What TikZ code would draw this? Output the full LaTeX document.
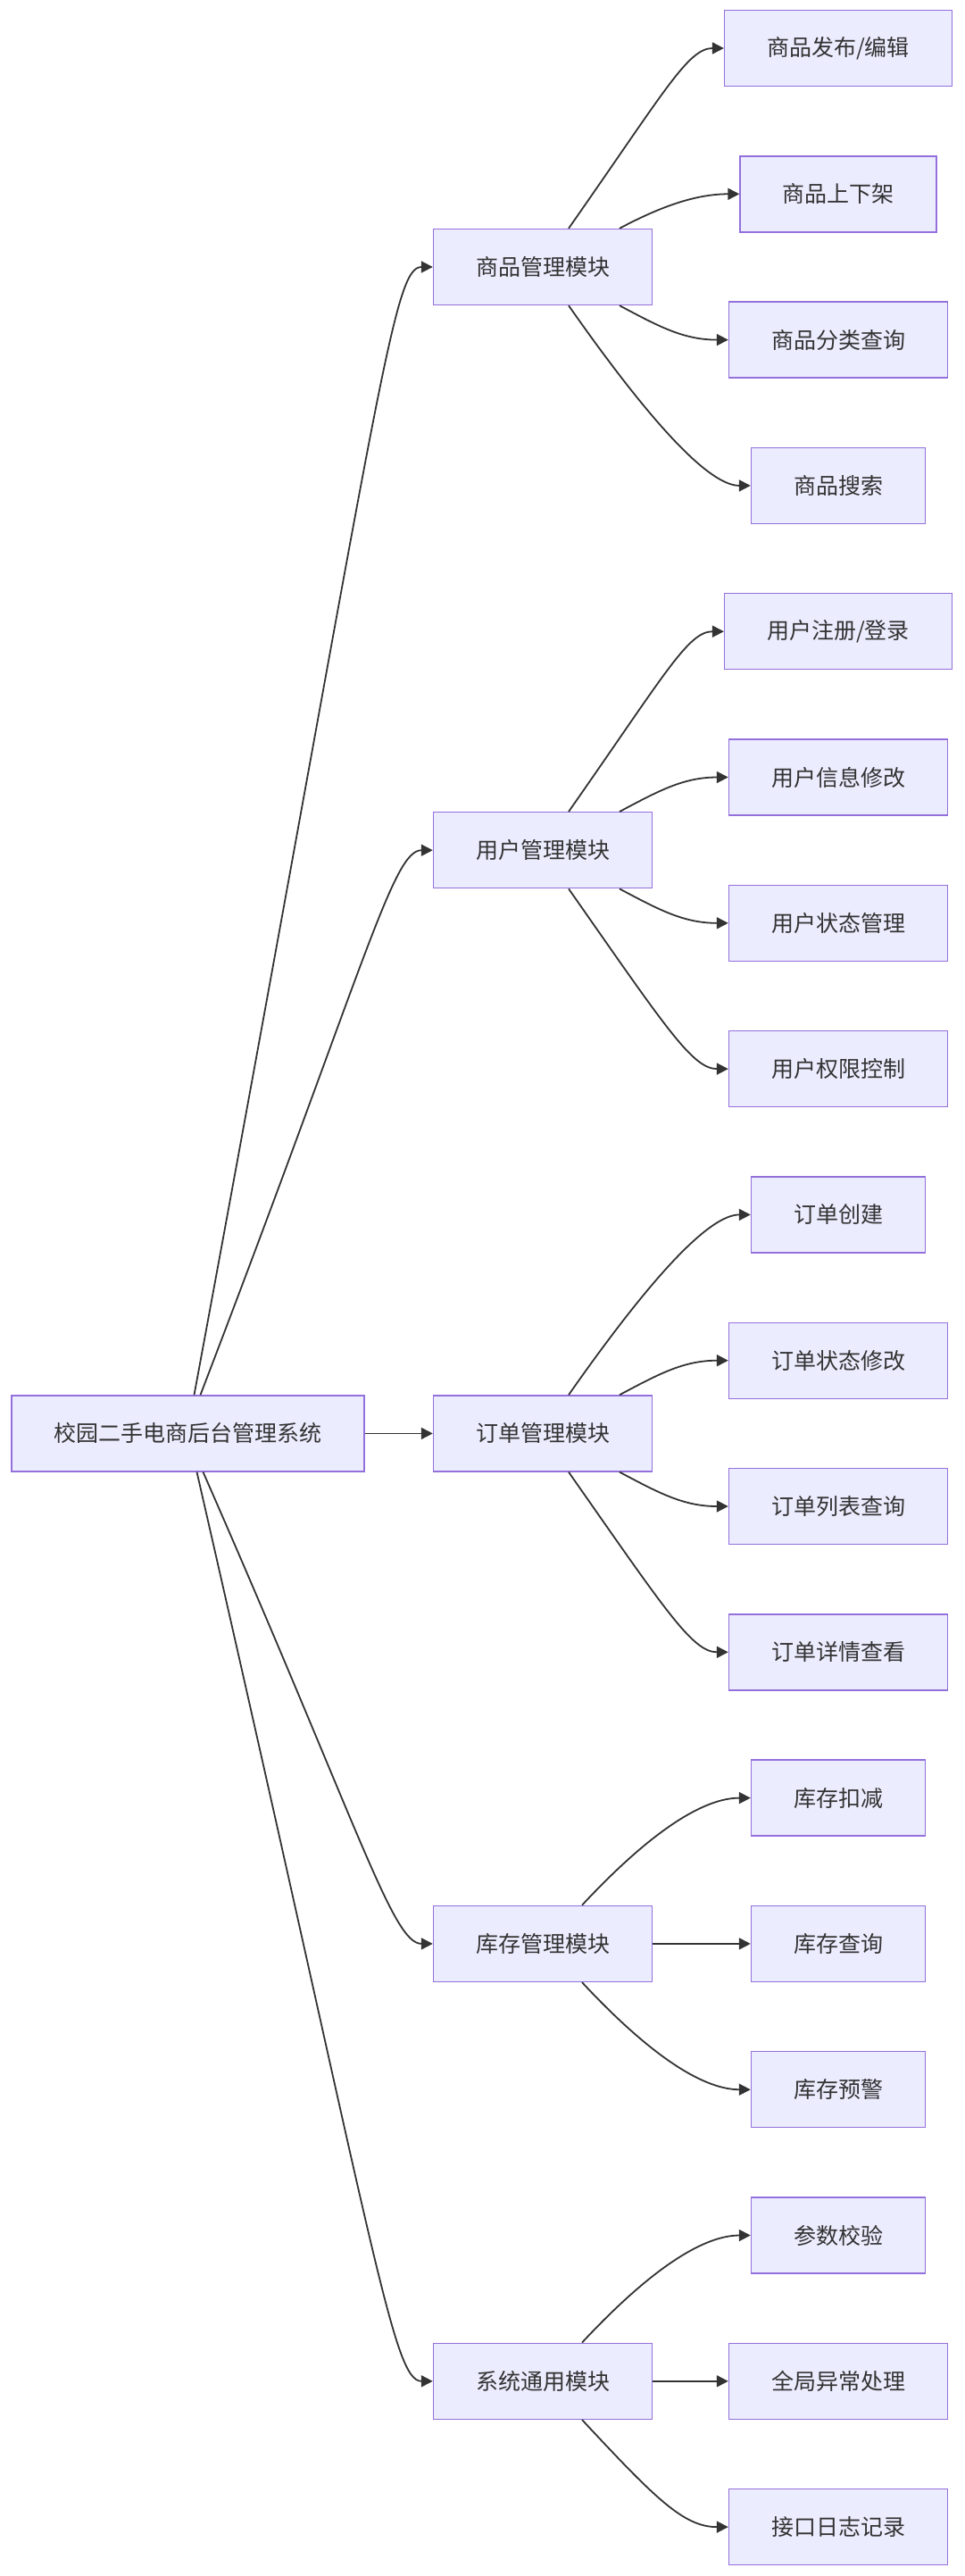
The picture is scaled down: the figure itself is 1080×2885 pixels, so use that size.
\documentclass[tikz,border=0pt]{standalone}
\usepackage{fontspec}
\newfontfamily\cjk{Noto Sans CJK SC}
\usetikzlibrary{arrows.meta}

\definecolor{boxfill}{HTML}{ECECFF}
\definecolor{boxline}{HTML}{9370DB}
\definecolor{ink}{HTML}{333333}

\begin{document}
\begin{tikzpicture}[x=1pt, y=-1pt, >={Triangle[length=13pt, width=13pt]},
    box/.style={draw=boxline, fill=boxfill, line width=1.4pt, rectangle,
        minimum height=85pt, inner xsep=47.5pt, text=ink,
        font=\cjk\fontsize{25pt}{30pt}\selectfont},
    link/.style={->, draw=ink, line width=1.8pt}]
    \useasboundingbox (0,0) rectangle (1080,2885);

    % Root box
    \node[box] (system) at (210.5,1605.4) {校园二手电商后台管理系统};

    % Module boxes
    \node[box] (goods) at (608,299) {商品管理模块};
    \node[box] (user) at (608,952.2) {用户管理模块};
    \node[box] (order) at (608,1605.4) {订单管理模块};
    \node[box] (stock) at (608,2176.9) {库存管理模块};
    \node[box] (common) at (608,2666.8) {系统通用模块};

    % Goods leaves
    \node[box] (goodspub) at (939,54) {商品发布/编辑};
    \node[box] (goodsshelf) at (939,217.3) {商品上下架};
    \node[box] (goodscat) at (939,380.6) {商品分类查询};
    \node[box] (goodssearch) at (939,543.9) {商品搜索};

    % User leaves
    \node[box] (userreg) at (939,707.2) {用户注册/登录};
    \node[box] (userinfo) at (939,870.5) {用户信息修改};
    \node[box] (userstate) at (939,1033.8) {用户状态管理};
    \node[box] (userauth) at (939,1197.1) {用户权限控制};

    % Order leaves
    \node[box] (ordernew) at (939,1360.4) {订单创建};
    \node[box] (orderstate) at (939,1523.7) {订单状态修改};
    \node[box] (orderlist) at (939,1687) {订单列表查询};
    \node[box] (orderdetail) at (939,1850.3) {订单详情查看};

    % Stock leaves
    \node[box] (stockdec) at (939,2013.6) {库存扣减};
    \node[box] (stockquery) at (939,2176.9) {库存查询};
    \node[box] (stockwarn) at (939,2340.2) {库存预警};

    % Common leaves
    \node[box] (paramcheck) at (939,2503.5) {参数校验};
    \node[box] (globalerr) at (939,2666.8) {全局异常处理};
    \node[box] (apilog) at (939,2830.1) {接口日志记录};

    % Root to modules
    \draw[link] ([xshift=7pt]system.north) .. controls +(-79.5:1150) and +(-45,0) .. (goods.west);
    \draw[link] ([xshift=14pt]system.north) .. controls +(-69:520) and +(-45,0) .. (user.west);
    \draw[link] (system.east) -- (order.west);
    \draw[link] ([xshift=17pt]system.south) .. controls +(66.3:440) and +(-45,0) .. (stock.west);
    \draw[link] ([xshift=10pt]system.south) .. controls +(77.1:900) and +(-45,0) .. (common.west);

    % Goods module to leaves
    \draw[link] ([xshift=29pt]goods.north) .. controls +(-55:190) and +(-40,0) .. (goodspub.west);
    \draw[link] ([xshift=86pt]goods.north) .. controls +(-28:50) and +(-50,0) .. (goodsshelf.west);
    \draw[link] ([xshift=86pt]goods.south) .. controls +(28:50) and +(-50,0) .. (goodscat.west);
    \draw[link] ([xshift=29pt]goods.south) .. controls +(55:190) and +(-40,0) .. (goodssearch.west);

    % User module to leaves
    \draw[link] ([xshift=29pt]user.north) .. controls +(-55:190) and +(-40,0) .. (userreg.west);
    \draw[link] ([xshift=86pt]user.north) .. controls +(-28:50) and +(-50,0) .. (userinfo.west);
    \draw[link] ([xshift=86pt]user.south) .. controls +(28:50) and +(-50,0) .. (userstate.west);
    \draw[link] ([xshift=29pt]user.south) .. controls +(55:190) and +(-40,0) .. (userauth.west);

    % Order module to leaves
    \draw[link] ([xshift=29pt]order.north) .. controls +(-55:190) and +(-40,0) .. (ordernew.west);
    \draw[link] ([xshift=86pt]order.north) .. controls +(-28:50) and +(-50,0) .. (orderstate.west);
    \draw[link] ([xshift=86pt]order.south) .. controls +(28:50) and +(-50,0) .. (orderlist.west);
    \draw[link] ([xshift=29pt]order.south) .. controls +(55:190) and +(-40,0) .. (orderdetail.west);

    % Stock module to leaves
    \draw[link] ([xshift=44pt]stock.north) .. controls +(-47:120) and +(-50,0) .. (stockdec.west);
    \draw[link] (stock.east) -- (stockquery.west);
    \draw[link] ([xshift=44pt]stock.south) .. controls +(47:120) and +(-50,0) .. (stockwarn.west);

    % Common module to leaves
    \draw[link] ([xshift=44pt]common.north) .. controls +(-47:120) and +(-50,0) .. (paramcheck.west);
    \draw[link] (common.east) -- (globalerr.west);
    \draw[link] ([xshift=44pt]common.south) .. controls +(47:120) and +(-50,0) .. (apilog.west);
\end{tikzpicture}
\end{document}
